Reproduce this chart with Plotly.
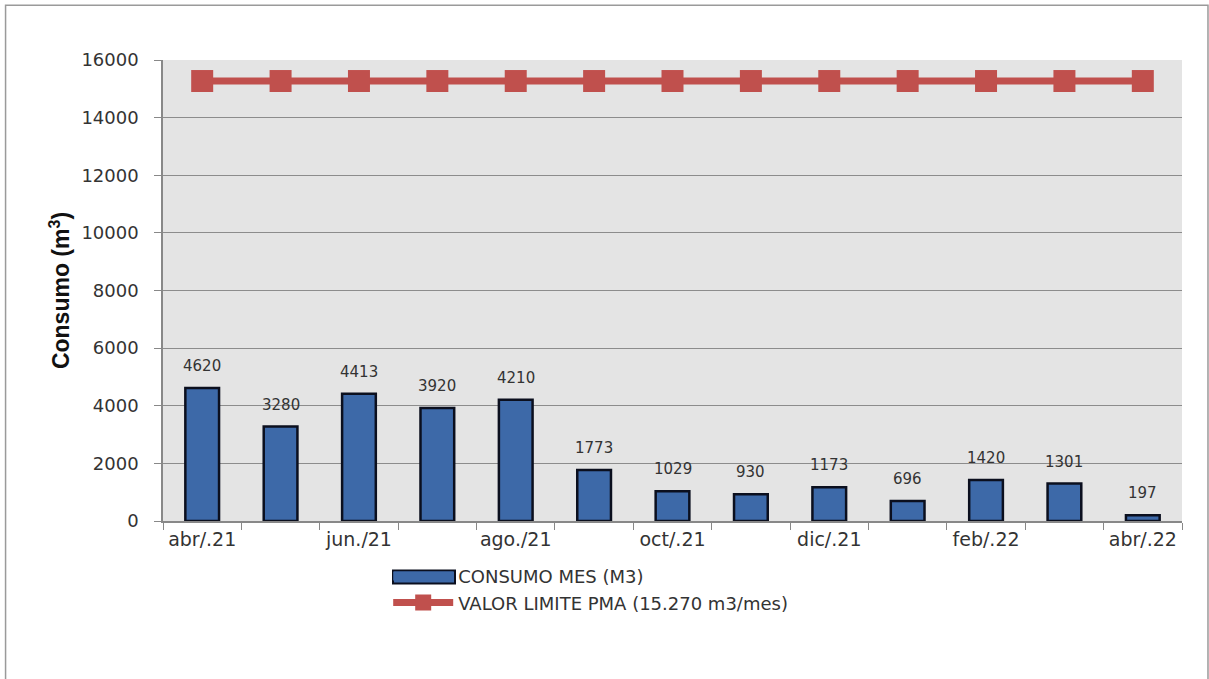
import plotly.graph_objects as go

months = ["abr/.21", "may./21", "jun./21", "jul./21", "ago./21", "sep./21", "oct/.21",
          "nov./21", "dic/.21", "ene./22", "feb/.22", "mar./22", "abr/.22"]
tick_labels = ["abr/.21", "", "jun./21", "", "ago./21", "", "oct/.21",
               "", "dic/.21", "", "feb/.22", "", "abr/.22"]
consumo = [4620, 3280, 4413, 3920, 4210, 1773, 1029, 930, 1173, 696, 1420, 1301, 197]
limite = [15270] * 13

font_family = "'DejaVu Sans', sans-serif"
bar_color = "#3d69a8"
bar_edge = "#0b0f1e"

fig = go.Figure()
fig.add_trace(go.Bar(
    x=months, y=consumo, name="CONSUMO MES (M3)", showlegend=False,
    marker=dict(color=bar_color, line=dict(color=bar_edge, width=2.5)),
))
# legend entry for the bars (wide rectangle sample like the original)
fig.add_trace(go.Scatter(
    x=[None], y=[None], name="CONSUMO MES (M3)", mode="lines",
    line=dict(color=bar_color, width=9),
))
fig.add_trace(go.Scatter(
    x=months, y=limite, name="VALOR LIMITE PMA (15.270 m3/mes)",
    mode="lines+markers",
    line=dict(color="#c0504d", width=7),
    marker=dict(symbol="square", size=22, color="#c0504d"),
))

annotations = [dict(x=m, y=v, text=str(v), showarrow=False, yshift=22,
                    font=dict(size=15, color="#333333", family=font_family))
               for m, v in zip(months, consumo)]

fig.update_layout(
    width=1209, height=679,
    margin=dict(l=163, r=27, t=60, b=158),
    paper_bgcolor="white", plot_bgcolor="#e4e4e4",
    bargap=0.57,
    font=dict(family=font_family, size=16, color="#333333"),
    showlegend=True,
    legend=dict(x=0.221, y=-0.08, xanchor="left", yanchor="top",
                orientation="v", font=dict(size=18, color="#333333"),
                bgcolor="rgba(0,0,0,0)", itemwidth=60, tracegroupgap=0),
    annotations=annotations,
    shapes=[
        dict(type="rect", xref="paper", yref="paper",
             x0=-0.1545, x1=1.0255, y0=-0.36, y1=1.119,
             line=dict(color="#9a9a9a", width=1.5), fillcolor="rgba(0,0,0,0)",
             layer="below"),
        dict(type="rect", xref="paper", yref="paper",
             x0=(393 - 163) / 1019, x1=(455 - 163) / 1019,
             y0=-(570.5 - 521) / 461, y1=-(583.5 - 521) / 461,
             line=dict(color=bar_edge, width=2), fillcolor=bar_color,
             layer="above"),
    ],
)
fig.update_xaxes(
    type="category", tickvals=months, ticktext=tick_labels, range=[-0.5, 12.5],
    tickson="boundaries", ticks="outside", ticklen=7, tickcolor="#888888",
    tickangle=0,
    showline=True, linecolor="#888888", linewidth=1.5, showgrid=False,
    tickfont=dict(size=19, color="#333333"),
)
fig.update_yaxes(
    range=[0, 16000], dtick=2000, tickformat="d",
    ticks="outside", ticklen=7, tickcolor="#888888", ticklabelstandoff=12,
    showline=True, linecolor="#888888", linewidth=1.5,
    gridcolor="#8c8c8c", gridwidth=1, zeroline=False,
    tickfont=dict(size=18, color="#333333"),
    title=dict(text="<b>Consumo (m<sup>3</sup>)</b>",
               font=dict(family="Arial, 'Liberation Sans', sans-serif", size=23, color="#111111"),
               standoff=5),
)

fig.write_html("out.html", config={"displayModeBar": False},
               post_script="document.body.style.margin='0';document.body.style.overflow='hidden';")
